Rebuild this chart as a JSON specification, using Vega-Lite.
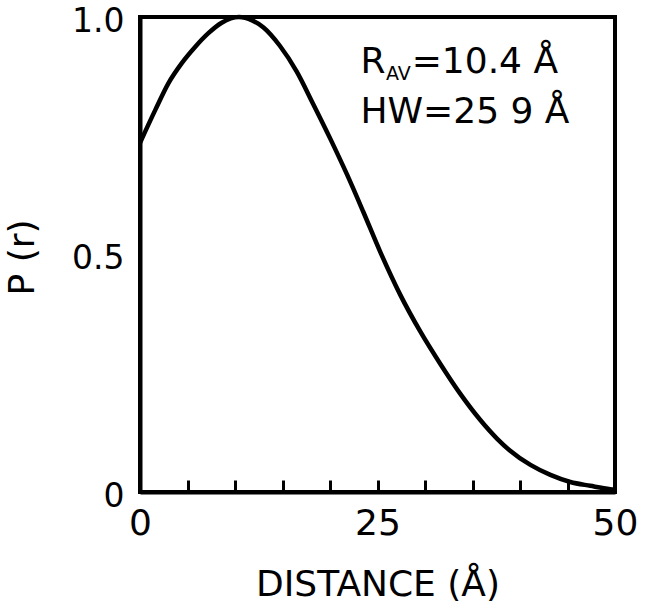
{
  "$schema": "https://vega.github.io/schema/vega-lite/v6.json",
  "width": 475,
  "height": 475,
  "autosize": {"type": "none"},
  "padding": {"left": 140, "top": 17, "right": 30, "bottom": 116},
  "background": "white",
  "config": {
    "view": {"stroke": "black", "strokeWidth": 4},
    "font": "DejaVu Sans"
  },
  "datasets": {
    "curve": [
      {"r": 0, "p": 0.735},
      {"r": 1.6, "p": 0.804},
      {"r": 3.0, "p": 0.861},
      {"r": 4.4, "p": 0.903},
      {"r": 5.8, "p": 0.937},
      {"r": 7.2, "p": 0.966},
      {"r": 8.6, "p": 0.988},
      {"r": 10.4, "p": 1.0},
      {"r": 11.8, "p": 0.993},
      {"r": 13.0, "p": 0.978},
      {"r": 14.7, "p": 0.94},
      {"r": 16.5, "p": 0.885},
      {"r": 18.2, "p": 0.818},
      {"r": 20.0, "p": 0.745},
      {"r": 21.8, "p": 0.668},
      {"r": 23.5, "p": 0.59},
      {"r": 25.3, "p": 0.505},
      {"r": 27.4, "p": 0.415},
      {"r": 29.5, "p": 0.338},
      {"r": 31.6, "p": 0.27},
      {"r": 33.7, "p": 0.207},
      {"r": 35.8, "p": 0.152},
      {"r": 37.6, "p": 0.112},
      {"r": 38.9, "p": 0.088},
      {"r": 41.1, "p": 0.057},
      {"r": 43.2, "p": 0.036},
      {"r": 45.3, "p": 0.021},
      {"r": 47.4, "p": 0.013},
      {"r": 49.5, "p": 0.006},
      {"r": 50.0, "p": 0.005}
    ],
    "notes": [
      {"x": 23.2, "y": 0.882, "label": "R"},
      {"x": 28.6, "y": 0.882, "label": "=10.4 Å"},
      {"x": 23.2, "y": 0.777, "label": "HW=25 9 Å"}
    ],
    "sub": [
      {"x": 25.9, "y": 0.868, "label": "AV"}
    ]
  },
  "layer": [
    {
      "data": {"name": "curve"},
      "mark": {"type": "line", "color": "black", "strokeWidth": 4.5, "interpolate": "monotone"},
      "encoding": {
        "x": {
          "field": "r",
          "type": "quantitative",
          "scale": {"domain": [0, 50], "nice": false},
          "axis": {
            "values": [0, 5, 10, 15, 20, 25, 30, 35, 40, 45, 50],
            "labelExpr": "datum.value % 25 === 0 ? datum.label : ''",
            "labelOverlap": false,
            "labelFlush": false,
            "tickSize": -12,
            "tickWidth": 3,
            "tickColor": "black",
            "domainColor": "black",
            "domainWidth": 4,
            "grid": false,
            "labelFontSize": 36,
            "labelColor": "black",
            "labelPadding": 26,
            "title": "DISTANCE (Å)",
            "titleFontSize": 36,
            "titleFontWeight": "normal",
            "titleColor": "black",
            "titleY": 92,
            "titleBaseline": "middle"
          }
        },
        "y": {
          "field": "p",
          "type": "quantitative",
          "scale": {"domain": [0, 1], "nice": false},
          "axis": {
            "values": [0, 0.5, 1],
            "labelExpr": "datum.value === 0 ? '0' : format(datum.value, '.1f')",
            "ticks": false,
            "grid": false,
            "domainColor": "black",
            "domainWidth": 4,
            "labelFontSize": 33,
            "labelColor": "black",
            "labelPadding": 16,
            "labelOffset": 4,
            "labelFlush": false,
            "title": "P (r)",
            "titleX": -118,
            "titleY": 240,
            "titleAngle": -90,
            "titleAlign": "center",
            "titleBaseline": "middle",
            "titleFontSize": 36,
            "titleFontWeight": "normal",
            "titleColor": "black"
          }
        }
      }
    },
    {
      "data": {"name": "notes"},
      "mark": {"type": "text", "align": "left", "baseline": "alphabetic", "fontSize": 36, "color": "black"},
      "encoding": {
        "x": {"field": "x", "type": "quantitative"},
        "y": {"field": "y", "type": "quantitative"},
        "text": {"field": "label"}
      }
    },
    {
      "data": {"name": "sub"},
      "mark": {"type": "text", "align": "left", "baseline": "alphabetic", "fontSize": 19, "color": "black"},
      "encoding": {
        "x": {"field": "x", "type": "quantitative"},
        "y": {"field": "y", "type": "quantitative"},
        "text": {"field": "label"}
      }
    }
  ]
}
